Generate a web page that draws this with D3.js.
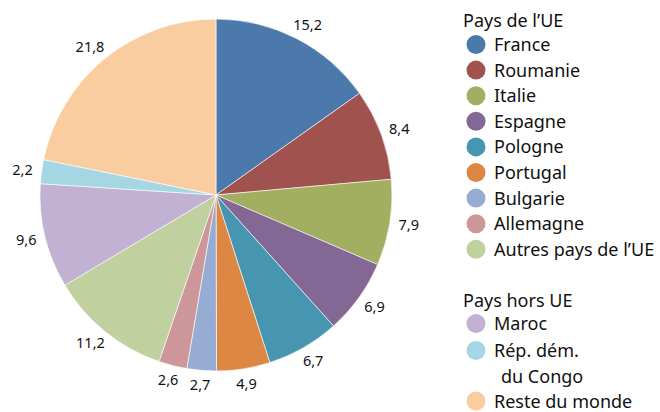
<!DOCTYPE html>
<html>
<head>
<meta charset="utf-8">
<script src="https://cdn.jsdelivr.net/npm/d3@7"></script>
<style>
  body { margin: 0; background: #fff; }
  text { font-family: "Noto Sans", sans-serif; fill: #111; }
</style>
</head>
<body>
<script>
// parts in %
var euNames = ["France", "Roumanie", "Italie", "Espagne", "Pologne", "Portugal", "Bulgarie", "Allemagne", "Autres pays de l\u2019UE"];
var euValues = [15.2, 8.4, 7.9, 6.9, 6.7, 4.9, 2.7, 2.6, 11.2];
var nonEuNames = ["Maroc", "R\u00e9p. d\u00e9m.\n du Congo", "Reste du monde"];
var nonEuValues = [9.6, 2.2, 21.8];
var euColors = ["#4b79ab", "#a0524f", "#a2ae60", "#836896", "#4696b1", "#dc8743", "#97acd2", "#cd9699", "#c1d09f"];
var nonEuColors = ["#c1b2d3", "#a4d7e3", "#facda1"];

var width = 660, height = 412;
var cx = 216, cy = 195, radius = 176;

var data = euNames.map(function(n, i) { return {name: n, value: euValues[i], color: euColors[i]}; })
  .concat(nonEuNames.map(function(n, i) { return {name: n, value: nonEuValues[i], color: nonEuColors[i]}; }));

var svg = d3.select("body").append("svg")
    .attr("width", width)
    .attr("height", height);

var pie = d3.pie().sort(null).value(function(d) { return d.value; });
var arc = d3.arc().innerRadius(0).outerRadius(radius);

var g = svg.append("g").attr("transform", "translate(" + cx + "," + cy + ")");

var arcs = pie(data);

g.selectAll("path")
    .data(arcs)
  .enter().append("path")
    .attr("d", arc)
    .style("fill", function(d) { return d.data.color; })
    .style("stroke", "#fff")
    .style("stroke-width", 0.6);

// labels sit just outside the rim, box pushed outward along the mid angle
var labelR = 185, labelH = 12;
g.selectAll("text.val")
    .data(arcs)
  .enter().append("text")
    .attr("class", "val")
    .attr("dy", "0.35em")
    .style("text-anchor", "middle")
    .style("font-size", "14.5px")
    .text(function(d) { return d3.format(".1f")(d.data.value).replace(".", ","); })
    .attr("transform", function(d) {
      var a = (d.startAngle + d.endAngle) / 2;
      var s = Math.sin(a), c = Math.cos(a);
      var w = this.getComputedTextLength();
      var x = labelR * s + w / 2 * s;
      var y = -labelR * c - labelH / 2 * c;
      return "translate(" + x + "," + y + ")";
    });

// legend
var lg = svg.append("g");
var lx = 476, tx = 494, step = 25.6;

lg.append("text").attr("x", 463).attr("y", 27).style("font-size", "18px").text("Pays de l\u2019UE");

var euItems = lg.selectAll("g.eu")
    .data(data.slice(0, euNames.length))
  .enter().append("g")
    .attr("class", "eu")
    .attr("transform", function(d, i) { return "translate(0," + (44.5 + i * step) + ")"; });
euItems.append("circle").attr("cx", lx).attr("r", 9.5).style("fill", function(d) { return d.color; });
euItems.append("text").attr("x", tx).attr("y", 6.5).style("font-size", "18px").text(function(d) { return d.name; });

lg.append("text").attr("x", 463).attr("y", 307).style("font-size", "18px").text("Pays hors UE");

var nonEuY = [323.5, 350.5, 401];
var neItems = lg.selectAll("g.ne")
    .data(data.slice(euNames.length))
  .enter().append("g")
    .attr("class", "ne")
    .attr("transform", function(d, i) { return "translate(0," + nonEuY[i] + ")"; });
neItems.append("circle").attr("cx", lx).attr("r", 9.5).style("fill", function(d) { return d.color; });
neItems.append("text")
    .attr("x", tx)
    .attr("y", 6.5)
    .style("font-size", "18px")
    .selectAll("tspan")
    .data(function(d) { return d.name.split("\n"); })
  .enter().append("tspan")
    .attr("x", function(d, i) { return i ? tx + 7 : tx; })
    .attr("dy", function(d, i) { return i ? 26 : 0; })
    .text(function(d) { return d.trim(); });
</script>
</body>
</html>
